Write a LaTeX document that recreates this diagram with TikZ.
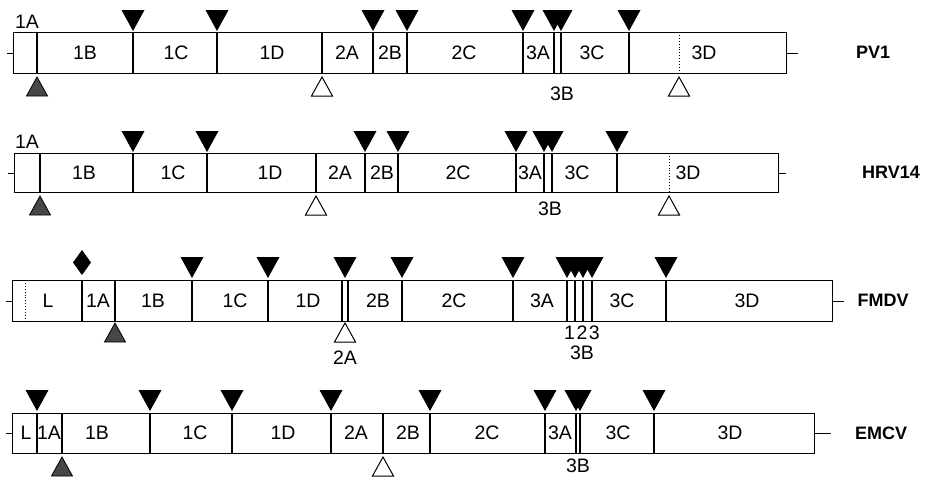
\documentclass[tikz,border=0pt]{standalone}
\usepackage{fontspec}
\setmainfont{Liberation Sans}
\usetikzlibrary{shapes.geometric}
\tikzset{
  genome/.style={draw,line width=1.1pt},
  divider/.style={line width=1.1pt},
  dotdiv/.style={line width=0.9pt,dotted},
  lbl/.style={inner sep=0pt,font=\fontsize{19.5}{19.5}\selectfont},
  vname/.style={inner sep=0pt,font=\fontsize{18}{18}\selectfont\bfseries},
  cleave/.style={fill=black},
  greytri/.style={fill=black!72,draw=black,line width=0.8pt},
  opentri/.style={fill=white,draw=black,line width=1pt}
}
% down triangle with tip at (x,y)
\newcommand\dtri[2]{\fill[cleave] (#1,#2) -- ++(-11.5,-21) -- ++(23,0) -- cycle;}
% up triangle with apex at (x,y)
\newcommand\utri[3]{\draw[#3] (#1,#2) -- ++(-10.5,19) -- ++(21,0) -- cycle;}
\begin{document}
\begin{tikzpicture}[x=1pt,y=-1pt]
\useasboundingbox (0,0) rectangle (928,477);

% ================= PV1 =================
\node[genome,minimum width=773pt,minimum height=41pt,inner sep=0pt,anchor=north west] (pv) at (13,32) {};
\draw[divider] (pv.west) -- ++(-6,0);
\draw[divider] (pv.east) -- ++(11,0);
\foreach \x in {37,133,217,322,373,407,523,554,561,629}
  \draw[divider] (\x,32) -- (\x,73);
\draw[dotdiv] (679,32) -- (679,73);
\foreach \x in {133,217,373,407,523,554,561,629} {\dtri{\x}{31}}
\utri{37}{77}{greytri}
\utri{322}{77}{opentri}
\utri{679}{77}{opentri}
\node[lbl] (pv1A) at (27,22) {1A};
\node[lbl] (pv1B) at (85,53) {1B};
\node[lbl] (pv1C) at (176,53) {1C};
\node[lbl] (pv1D) at (272,53) {1D};
\node[lbl] (pv2A) at (347,53) {2A};
\node[lbl] (pv2B) at (390,53) {2B};
\node[lbl] (pv2C) at (464,53) {2C};
\node[lbl] (pv3A) at (538,53) {3A};
\node[lbl] (pv3C) at (592,53) {3C};
\node[lbl] (pv3D) at (704,53) {3D};
\node[lbl] (pv3B) at (562,94) {3B};
\node[vname] (pvname) at (873,52) {PV1};

% ================= HRV14 =================
\node[genome,minimum width=764pt,minimum height=39pt,inner sep=0pt,anchor=north west] (hrv) at (14,153) {};
\draw[divider] (hrv.west) -- ++(-6,0);
\draw[divider] (hrv.east) -- ++(7,0);
\foreach \x in {40,133,207,316,365,398,516,544,552,617}
  \draw[divider] (\x,153) -- (\x,192);
\draw[dotdiv] (669,153) -- (669,192);
\foreach \x in {133,207,365,398,516,544,552,617} {\dtri{\x}{152}}
\utri{40}{196}{greytri}
\utri{316}{196}{opentri}
\utri{669}{196}{opentri}
\node[lbl] (hrv1A) at (27,142) {1A};
\node[lbl] (hrv1B) at (84,173) {1B};
\node[lbl] (hrv1C) at (173,173) {1C};
\node[lbl] (hrv1D) at (270,173) {1D};
\node[lbl] (hrv2A) at (340,173) {2A};
\node[lbl] (hrv2B) at (382,173) {2B};
\node[lbl] (hrv2C) at (458,173) {2C};
\node[lbl] (hrv3A) at (530,173) {3A};
\node[lbl] (hrv3C) at (577,173) {3C};
\node[lbl] (hrv3D) at (688,173) {3D};
\node[lbl] (hrv3B) at (550,209) {3B};
\node[vname] (hrvname) at (891,172) {HRV14};

% ================= FMDV =================
\node[genome,minimum width=820pt,minimum height=41pt,inner sep=0pt,anchor=north west] (fm) at (12,280) {};
\draw[divider] (fm.west) -- ++(-6,0);
\draw[divider] (fm.east) -- ++(11,0);
\draw[dotdiv] (25,280) -- (25,321);
\foreach \x in {82,115,192,268,342,348,402,513,567,575,583,592,666}
  \draw[divider] (\x,280) -- (\x,321);
\fill (82,250) -- (91,262.5) -- (82,275) -- (73,262.5) -- cycle;
\foreach \x in {192,268,345,402,513,567,575,583,592,666} {\dtri{\x}{278}}
\utri{115}{323}{greytri}
\utri{345}{323}{opentri}
\node[lbl] (fmL) at (48,301) {L};
\node[lbl] (fm1A) at (98,301) {1A};
\node[lbl] (fm1B) at (153,301) {1B};
\node[lbl] (fm1C) at (235,301) {1C};
\node[lbl] (fm1D) at (308,301) {1D};
\node[lbl] (fm2B) at (378,301) {2B};
\node[lbl] (fm2C) at (454,301) {2C};
\node[lbl] (fm3A) at (542,301) {3A};
\node[lbl] (fm3C) at (622,301) {3C};
\node[lbl] (fm3D) at (747,301) {3D};
\node[lbl] (fm2A) at (345,358) {2A};
\node[lbl] (fm123) at (582,333) {1\hspace{1.5pt}2\hspace{1.5pt}3};
\node[lbl] (fm3B) at (582,353) {3B};
\node[vname] (fmname) at (883,300) {FMDV};

% ================= EMCV =================
\node[genome,minimum width=802pt,minimum height=40pt,inner sep=0pt,anchor=north west] (em) at (12,413) {};
\draw[divider] (em.west) -- ++(-6,0);
\draw[divider] (em.east) -- ++(16,0);
\foreach \x in {37,62,150,232,331,383,430,545,576,580,654}
  \draw[divider] (\x,413) -- (\x,453);
\foreach \x in {37,150,232,331,430,545,576,580,654} {\dtri{\x}{411}}
\utri{62}{457}{greytri}
\utri{383}{457}{opentri}
\node[lbl] (emL) at (26,433) {L};
\node[lbl] (em1A) at (49,433) {1A};
\node[lbl] (em1B) at (97,433) {1B};
\node[lbl] (em1C) at (195,433) {1C};
\node[lbl] (em1D) at (283,433) {1D};
\node[lbl] (em2A) at (356,433) {2A};
\node[lbl] (em2B) at (408,433) {2B};
\node[lbl] (em2C) at (487,433) {2C};
\node[lbl] (em3A) at (560,433) {3A};
\node[lbl] (em3C) at (618,433) {3C};
\node[lbl] (em3D) at (730,433) {3D};
\node[lbl] (em3B) at (578,466) {3B};
\node[vname] (emname) at (881,433) {EMCV};
\end{tikzpicture}
\end{document}
